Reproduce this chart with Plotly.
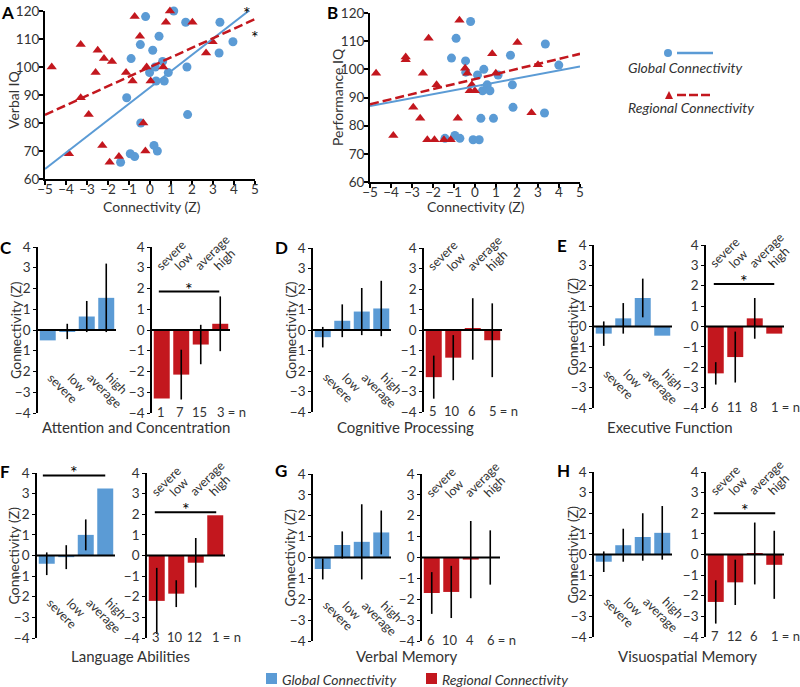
import plotly.graph_objects as go

W, H = 800, 687
BLUE = "#5B9BD5"
RED = "#C3171E"
FONT = "Lato"
TXT = "#333333"

# ---------------- Panel A: Verbal IQ vs connectivity ----------------
a_glob_x = [-0.21, 1.13, 1.70, 3.33, 0.43, -0.46, 3.95, 0.13, 3.29, -0.90, 0.60, 0.25, -0.02,
            0.87, 1.76, 0.29, 0.68, -1.11, -0.44, 1.79, 0.19, 0.35, -0.94, -0.73, -1.40]
a_glob_y = [118, 120, 116, 116, 111, 108, 109, 106, 105, 103, 102, 100, 98,
            98, 100, 95, 95, 89, 80, 83, 72, 70, 69, 68, 66]
a_reg_x = [-4.68, -3.30, -2.49, -2.19, -1.81, -2.59, -1.14, -0.83, -0.73, -0.48, 0.95, 0.76, 2.02,
           -0.16, 0.03, 0.63, 2.98, 2.67, -3.30, -2.92, -0.32, -3.86, -2.27, -1.92, -1.48, -0.22]
a_reg_y = [100, 108, 106, 103, 102, 98, 98, 95, 118, 111, 120, 116, 116,
           100, 95, 100, 109, 105, 89, 83, 80, 69, 72, 66, 68, 70]

# ---------------- Panel B: Performance IQ vs connectivity ----------------
b_glob_x = [0.31, -0.21, -0.90, -1.12, -0.45, -0.44, 0.12, 0.42, 1.10, 1.69, 0.58, 0.36, 0.71,
            1.78, 1.81, 0.28, 0.88, -1.43, -0.96, -0.72, -0.09, 0.20, 3.35, 3.99, 3.31]
b_glob_y = [121, 117, 111, 104, 103, 99, 98, 100, 98, 105, 94.5, 92.4, 92.4,
            94.5, 86.5, 82.6, 82.6, 75.5, 76.5, 75.5, 75, 75, 109, 101.5, 84.5]
b_reg_x = [-4.71, -3.89, -3.30, -3.30, -2.94, -2.61, -2.48, -2.21, -2.27, -1.93, -1.83, -1.48, -1.16,
           -0.82, -0.74, -0.47, -0.36, -0.25, -0.15, -0.01, 0.64, 0.82, 0.99, 2.02, 2.69, 3.00]
b_reg_y = [98.6, 76.5, 104.4, 103.4, 86.5, 82.6, 98.6, 111, 75, 75, 94.5, 75, 75,
           82.6, 117.4, 100.4, 98.6, 92.4, 94.5, 92.4, 121.4, 105.5, 98.6, 109.5, 84.6, 101.6]

# regression lines (values at x = -5 and x = 5)
fit_x = [-5, 5]
a_glob_fit = [63.6, 121.8]
a_reg_fit = [82.9, 117.1]
b_glob_fit = [87.0, 101.0]
b_reg_fit = [87.6, 105.5]

# ---------------- Bar panels C-H ----------------
levels = ["severe", "low", "average", "high"]
panel_letters = ["C", "D", "E", "F", "G", "H"]
panel_titles = ["Attention and Concentration", "Cognitive Processing", "Executive Function",
                "Language Abilities", "Verbal Memory", "Visuospatial Memory"]

c_glob = [-0.5, -0.07, 0.65, 1.55];  c_glob_err = [0, 0.37, 0.75, 1.65]
c_reg = [-3.3, -2.15, -0.7, 0.3];    c_reg_err = [0, 1.2, 0.95, 1.32]
c_n = [1, 7, 15, 3]
d_glob = [-0.35, 0.45, 0.9, 1.05];   d_glob_err = [0.5, 0.8, 1.15, 1.35]
d_reg = [-2.3, -1.35, 0.05, -0.5];   d_reg_err = [1.05, 1.1, 1.5, 1.8]
d_n = [5, 10, 6, 5]
e_glob = [-0.35, 0.4, 1.4, -0.45];  e_glob_err = [0.6, 0.75, 0.95, 0]
e_reg = [-2.3, -1.5, 0.4, -0.35];   e_reg_err = [0.55, 1.25, 1.0, 0]
e_n = [6, 11, 8, 1]
f_glob = [-0.4, -0.08, 1.0, 3.25];  f_glob_err = [0.55, 0.58, 0.75, 0]
f_reg = [-2.2, -1.85, -0.35, 1.95]; f_reg_err = [1.6, 0.65, 1.2, 0]
f_n = [3, 10, 12, 1]
g_glob = [-0.55, 0.6, 0.75, 1.2];   g_glob_err = [0.5, 0.65, 1.8, 1.05]
g_reg = [-1.7, -1.65, -0.1, 0.0];   g_reg_err = [1.0, 1.25, 1.85, 1.3]
g_n = [6, 10, 4, 6]
h_glob = [-0.35, 0.45, 0.85, 1.05]; h_glob_err = [0.5, 0.8, 1.15, 1.3]
h_reg = [-2.3, -1.35, 0.05, -0.5];  h_reg_err = [1.05, 1.1, 1.5, 1.65]
h_n = [7, 12, 6, 1]

glob_vals = [c_glob, d_glob, e_glob, f_glob, g_glob, h_glob]
glob_errs = [c_glob_err, d_glob_err, e_glob_err, f_glob_err, g_glob_err, h_glob_err]
reg_vals = [c_reg, d_reg, e_reg, f_reg, g_reg, h_reg]
reg_errs = [c_reg_err, d_reg_err, e_reg_err, f_reg_err, g_reg_err, h_reg_err]
n_vals = [c_n, d_n, e_n, f_n, g_n, h_n]

# significance brackets: (panel index, side 0=global 1=regional, y, x0, x1)
signif = [(0, 1, 1.85, -0.15, 2.95), (2, 1, 2.08, -0.1, 3.0), (3, 0, 3.88, -0.2, 3.0),
          (3, 1, 2.1, -0.1, 3.05), (5, 1, 2.0, -0.1, 3.05)]

# ---------------- geometry (pixels) ----------------
# (left axis x, right axis x, top y (=4), bottom y (=-4), title x, title y, letter x, letter y, ytitle x)
geom = [
    (38, 152, 247, 413, 136, 427, 6, 247, 15),
    (313, 424, 248, 412, 405, 427, 281, 247, 290),
    (594, 706, 245, 408, 670, 427, 562, 245, 572),
    (37, 147, 473, 638, 130, 656, 5, 471, 13),
    (313, 422, 474, 641, 407, 656, 281, 470, 289),
    (594, 706, 472, 637, 687, 656, 563, 470, 572),
]
SUBW = 78


def fx(px):
    return px / W


def fy(py):
    return 1 - py / H


fig = go.Figure()
layout = {}
annotations = []
shapes = []

tickfont = dict(family=FONT, size=13.5, color=TXT)
sc_axis = dict(showline=True, linecolor="black", linewidth=2, ticks="outside", ticklen=4,
               tickwidth=1.5, tickcolor="black", showgrid=False, zeroline=False, tickfont=tickfont)

# scatter panels
for idx, (gx, gy, rx, ry, gfit, rfit, dom_x, dom_y) in enumerate([
        (a_glob_x, a_glob_y, a_reg_x, a_reg_y, a_glob_fit, a_reg_fit, (45, 255), (11, 179)),
        (b_glob_x, b_glob_y, b_reg_x, b_reg_y, b_glob_fit, b_reg_fit, (370, 580), (13, 182))]):
    k = idx + 1
    xs = "x" if k == 1 else f"x{k}"
    ys = "y" if k == 1 else f"y{k}"
    fig.add_trace(go.Scatter(x=gx, y=gy, mode="markers", xaxis=xs, yaxis=ys, cliponaxis=False,
                             marker=dict(symbol="circle", size=9, color=BLUE)))
    fig.add_trace(go.Scatter(x=rx, y=ry, mode="markers", xaxis=xs, yaxis=ys, cliponaxis=False,
                             marker=dict(symbol="triangle-up", size=9, color=RED)))
    fig.add_trace(go.Scatter(x=fit_x, y=gfit, mode="lines", xaxis=xs, yaxis=ys, cliponaxis=False,
                             line=dict(color=BLUE, width=2)))
    fig.add_trace(go.Scatter(x=fit_x, y=rfit, mode="lines", xaxis=xs, yaxis=ys, cliponaxis=False,
                             line=dict(color=RED, width=2.5, dash="9px,4px")))
    layout["xaxis" if k == 1 else f"xaxis{k}"] = dict(
        sc_axis, domain=[fx(dom_x[0]), fx(dom_x[1])], range=[-5, 5], dtick=1, anchor=ys,
        ticklabelstandoff=-7)
    layout["yaxis" if k == 1 else f"yaxis{k}"] = dict(
        sc_axis, domain=[fy(dom_y[1]), fy(dom_y[0])], range=[60, 120], dtick=10, anchor=xs,
        ticklabelstandoff=-3)

# scatter labels
annotations += [
    dict(text="Verbal IQ", x=fx(13), y=fy(100), textangle=-90),
    dict(text="Performance IQ", x=fx(337), y=fy(97), textangle=-90),
    dict(text="Connectivity (Z)", x=fx(152), y=fy(207)),
    dict(text="Connectivity (Z)", x=fx(476), y=fy(207)),
    dict(text="<b>A</b>", x=fx(7), y=fy(0), yanchor="top", font=dict(size=17, color="black")),
    dict(text="<b>B</b>", x=fx(332), y=fy(0), yanchor="top", font=dict(size=17, color="black")),
    dict(text="*", x=fx(247), y=fy(0), yanchor="top", font=dict(size=18, color="black")),
    dict(text="*", x=5.0, y=112.5, xref="x", yref="y", yshift=-5, font=dict(size=18, color="black")),
]

# bar panels
for p in range(6):
    lx, rxp, top, bot, tx, ty, lxl, lyl, ytx = geom[p]
    for side in (0, 1):
        k = 3 + 2 * p + side
        x0 = lx if side == 0 else rxp
        vals = glob_vals[p] if side == 0 else reg_vals[p]
        errs = glob_errs[p] if side == 0 else reg_errs[p]
        color = BLUE if side == 0 else RED
        fig.add_trace(go.Bar(x=[0, 1, 2, 3], y=vals, width=0.82, marker=dict(color=color, line=dict(width=0)),
                             xaxis=f"x{k}", yaxis=f"y{k}",
                             error_y=dict(type="data", array=errs, visible=True, color="black",
                                          thickness=1.6, width=0)))
        layout[f"xaxis{k}"] = dict(domain=[fx(x0), fx(x0 + SUBW)], range=[-0.5, 3.5], visible=False,
                                   anchor=f"y{k}", fixedrange=True)
        layout[f"yaxis{k}"] = dict(domain=[fy(bot), fy(top)], range=[-4, 4], dtick=1, showline=True,
                                   linecolor="black", linewidth=1.6, ticks="outside", ticklen=3,
                                   tickcolor="black", showgrid=False, zeroline=False, anchor=f"x{k}",
                                   tickfont=tickfont)
        shapes.append(dict(type="line", xref=f"x{k} domain", yref=f"y{k}", x0=0, x1=1, y0=0, y1=0,
                           line=dict(color="black", width=2), layer="above"))
        for i, lev in enumerate(levels):
            if side == 0:
                annotations.append(dict(text=lev, x=i - 0.3, y=-1.8, xref=f"x{k}", yref=f"y{k}",
                                        textangle=45, xanchor="left", yanchor="top",
                                        font=dict(size=12.5)))
            else:
                annotations.append(dict(text=lev, x=i, y=2.6, xref=f"x{k}", yref=f"y{k}",
                                        xshift=-12, yshift=0,
                                        textangle=-45, xanchor="left", yanchor="bottom",
                                        font=dict(size=12.5)))
        if side == 1:
            nv = n_vals[p]
            for i in range(3):
                annotations.append(dict(text=str(nv[i]), x=i - 0.05, y=-4, xref=f"x{k}", yref=f"y{k}",
                                        yshift=1, xanchor="center", yanchor="middle", font=dict(size=13)))
            annotations.append(dict(text=f"{nv[3]} = n", x=2.75, y=-4, xref=f"x{k}", yshift=1,
                                    yref=f"y{k}", xanchor="left", yanchor="middle", font=dict(size=13)))
    annotations.append(dict(text=panel_titles[p], x=fx(tx), y=fy(ty), font=dict(size=15)))
    annotations.append(dict(text=f"<b>{panel_letters[p]}</b>", x=fx(lxl), y=fy(lyl),
                            font=dict(size=17, color="black")))
    annotations.append(dict(text="Connectivity (Z)", x=fx(ytx), y=fy((top + bot) / 2), textangle=-90))

for (p, side, yv, xa, xb) in signif:
    k = 3 + 2 * p + side
    shapes.append(dict(type="line", xref=f"x{k}", yref=f"y{k}", x0=xa, x1=xb, y0=yv, y1=yv,
                       line=dict(color="black", width=2)))
    annotations.append(dict(text="*", x=(xa + xb) / 2, y=yv, xref=f"x{k}", yref=f"y{k}",
                            yanchor="middle", yshift=3, font=dict(size=18, color="black")))

# top-right legend
shapes += [
    dict(type="circle", xref="paper", yref="paper", x0=fx(664), x1=fx(672), y0=fy(57), y1=fy(49),
         fillcolor=BLUE, line=dict(width=0)),
    dict(type="line", xref="paper", yref="paper", x0=fx(677), x1=fx(713), y0=fy(53), y1=fy(53),
         line=dict(color=BLUE, width=2.5)),
    dict(type="path", xref="paper", yref="paper",
         path=f"M {fx(665)} {fy(99)} L {fx(673)} {fy(99)} L {fx(669)} {fy(91)} Z",
         fillcolor=RED, line=dict(width=0)),
    dict(type="line", xref="paper", yref="paper", x0=fx(677), x1=fx(713), y0=fy(95), y1=fy(95),
         line=dict(color=RED, width=2.5, dash="9px,3px")),
    # bottom legend squares
    dict(type="rect", xref="paper", yref="paper", x0=fx(266), x1=fx(277), y0=fy(684), y1=fy(673),
         fillcolor=BLUE, line=dict(width=0)),
    dict(type="rect", xref="paper", yref="paper", x0=fx(426), x1=fx(437), y0=fy(684), y1=fy(673),
         fillcolor=RED, line=dict(width=0)),
]
annotations += [
    dict(text="<i>Global Connectivity</i>", x=fx(626), y=fy(67), xanchor="left"),
    dict(text="<i>Regional Connectivity</i>", x=fx(626), y=fy(107), xanchor="left"),
    dict(text="<i>Global Connectivity</i>", x=fx(280), y=fy(679), xanchor="left"),
    dict(text="<i>Regional Connectivity</i>", x=fx(440), y=fy(679), xanchor="left"),
]

for a in annotations:
    a.setdefault("showarrow", False)
    a.setdefault("xref", "paper")
    a.setdefault("yref", "paper")
    a.setdefault("xanchor", "center")
    a.setdefault("yanchor", "middle")
    f = a.setdefault("font", {})
    f.setdefault("family", FONT)
    f.setdefault("size", 14)
    f.setdefault("color", TXT)

fig.update_layout(
    width=W, height=H, margin=dict(l=0, r=0, t=0, b=0, autoexpand=False),
    paper_bgcolor="white", plot_bgcolor="white", showlegend=False,
    font=dict(family=FONT, size=13, color=TXT),
    annotations=annotations, shapes=shapes, bargap=0.18,
    **layout,
)

fig.write_html("out.html", config={"displayModeBar": False},
               post_script="document.body.style.margin='0px';")
